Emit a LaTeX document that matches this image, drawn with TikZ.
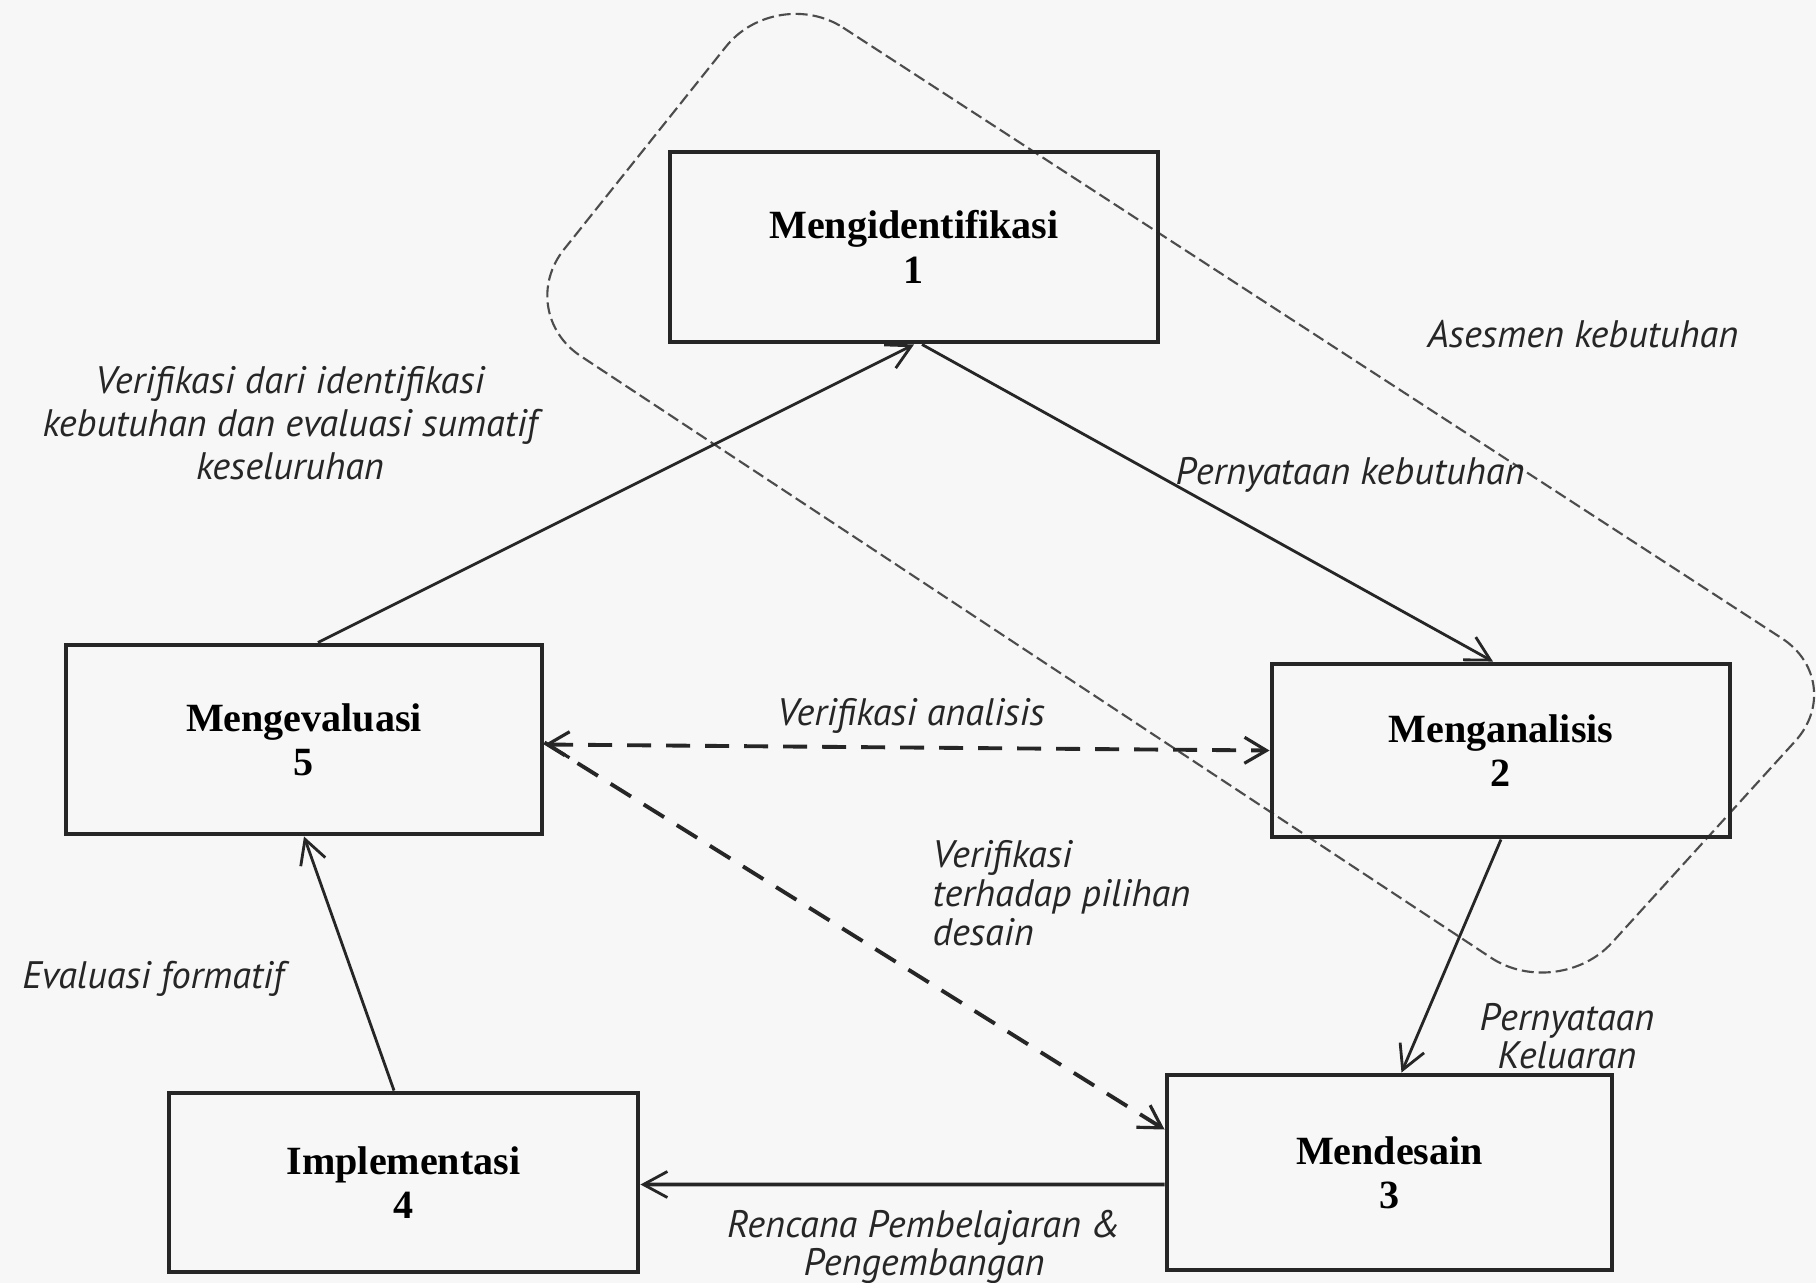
\documentclass[tikz,border=0pt]{standalone}
\usepackage{fontspec}
\setmainfont{Liberation Serif}
\newfontfamily\labfont{PT Sans}
\usetikzlibrary{arrows.meta,calc}
\begin{document}
\begin{tikzpicture}[x=0.1mm,y=-0.1mm,
  box/.style={draw=black!85, line width=1.4pt, inner sep=0pt, align=center,
    font=\fontsize{11.4}{12.6}\selectfont\bfseries},
  lab/.style={inner sep=0pt, align=center, text=black!85,
    font=\labfont\itshape\fontsize{10.9}{12.2}\selectfont},
  labtight/.style={lab, font=\labfont\itshape\fontsize{10.9}{11}\selectfont},
  conn/.style={draw=black!85, line width=0.8pt,
    -{Straight Barb[length=2.4mm,width=2.6mm,line width=0.8pt]}},
  dconn/.style={draw=black!85, line width=1.1pt, dash pattern=on 2.4mm off 1.5mm,
    -{Straight Barb[length=2.2mm,width=2.6mm,line width=0.9pt]}},
  region/.style={draw=black!70, line width=0.6pt, dash pattern=on 1.2mm off 0.5mm,
    rounded corners=8mm}
]
\fill[gray!6] (0,0) rectangle (1816,1283);
\useasboundingbox (0,0) rectangle (1816,1283);

% dashed region: Asesmen kebutuhan
\draw[region] (776,-16) -- (1849,682) -- (1558,1002) -- (514,312) -- cycle;

% boxes
\node[box, minimum width=48.8mm, minimum height=19mm] (n1) at (914,247) {Mengidentifikasi\\1};
\node[box, minimum width=47.6mm, minimum height=18.9mm] (n5) at (304,739.5) {Mengevaluasi\\5};
\node[box, minimum width=45.8mm, minimum height=17.3mm] (n2) at (1501,750.5) {Menganalisis\\2};
\node[box, minimum width=46.9mm, minimum height=17.9mm] (n4) at (403.5,1182.5) {Implementasi\\4};
\node[box, minimum width=44.5mm, minimum height=19.5mm] (n3) at (1389.5,1172.5) {Mendesain\\3};

% connectors
\draw[conn] ([xshift=1.4mm]n5.north) -- (n1.south);
\draw[conn] ([xshift=0.8mm]n1.south) -- ([xshift=-0.8mm]n2.north);
\draw[conn] (n2.south) -- ([xshift=1.2mm]n3.north);
\draw[conn, line width=1.1pt] ([yshift=-1.2mm]n3.west) -- ([yshift=-0.2mm]n4.east);
\draw[conn] ([xshift=-0.95mm]n4.north) -- (n5.south);
\draw[dconn, {Straight Barb[length=2.2mm,width=2.6mm,line width=0.9pt]}-{Straight Barb[length=2.2mm,width=2.6mm,line width=0.9pt]}] ([yshift=-0.5mm]n5.east) -- (n2.west);
\draw[dconn] ([yshift=-0.3mm]n5.east) -- ([yshift=4.3mm]n3.west);

% labels
\node[lab] (lasm) at (1583,334) {Asesmen kebutuhan};
\node[lab] (lver) at (290,423) {Verifikasi dari identifikasi\\kebutuhan dan evaluasi sumatif\\keseluruhan};
\node[lab] (lpk) at (1350,475) {Pernyataan kebutuhan};
\node[lab] (lva) at (911,716) {Verifikasi analisis};
\node[labtight, align=left, anchor=west] (lvt) at (932,893) {Verifikasi\\terhadap pilihan\\desain};
\node[lab] (lef) at (153,979) {Evaluasi formatif};
\node[labtight] (lpkl) at (1567,1036) {Pernyataan\\Keluaran};
\node[labtight] (lrp) at (924,1247) {Rencana Pembelajaran \&\\Pengembangan};
\end{tikzpicture}
\end{document}
